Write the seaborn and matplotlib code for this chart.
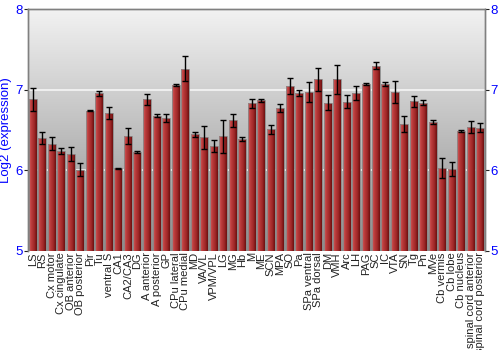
import numpy as np
import pandas as pd
import matplotlib
matplotlib.use("Agg")
import matplotlib.pyplot as plt
import seaborn as sns
from matplotlib.colors import LinearSegmentedColormap

regions = ["LS", "RS", "Cx motor", "Cx cingulate", "OB anterior", "OB posterior",
           "Pir", "Tu", "ventral S", "CA1", "CA2/CA3", "DG", "A anterior",
           "A posterior", "GP", "CPu lateral", "CPu medial", "MD", "VA/VL",
           "VPM/VPL", "LG", "MG", "Hb", "M", "ME", "SCN", "MPA", "SO", "Pa",
           "SPa ventral", "SPa dorsal", "DM", "VMH", "Arc", "LH", "PAG", "SC",
           "IC", "VTA", "SN", "Tg", "Pn", "MVe", "Cb vermis", "Cb lobe",
           "Cb nucleus", "spinal cord anterior", "spinal cord posterior"]
expression = [6.88, 6.40, 6.33, 6.24, 6.20, 6.01,
              6.74, 6.955, 6.71, 6.025, 6.43, 6.23, 6.88,
              6.68, 6.65, 7.055, 7.26, 6.447, 6.41,
              6.30, 6.42, 6.62, 6.39, 6.83, 6.87, 6.51, 6.77, 7.05, 6.96,
              6.97, 7.13, 6.84, 7.13, 6.85, 6.96, 7.07, 7.30,
              7.07, 6.97, 6.57, 6.855, 6.84, 6.60, 6.03, 6.02,
              6.49, 6.54, 6.53]
error = [0.14, 0.075, 0.08, 0.04, 0.09, 0.085,
         0.01, 0.03, 0.07, 0.005, 0.10, 0.015, 0.065,
         0.02, 0.05, 0.01, 0.155, 0.03, 0.14,
         0.075, 0.20, 0.08, 0.02, 0.055, 0.02, 0.055, 0.05, 0.10, 0.035,
         0.12, 0.145, 0.095, 0.18, 0.08, 0.09, 0.015, 0.04,
         0.03, 0.135, 0.10, 0.065, 0.03, 0.02, 0.125, 0.085,
         0.015, 0.075, 0.055]
y_ticks = [5, 6, 7, 8]

df = pd.DataFrame({"region": regions, "expression": expression, "error": error})

sns.set_theme(style="white")
plt.rcParams["font.family"] = ["Liberation Sans", "DejaVu Sans"]

fig = plt.figure(figsize=(5, 3.5), dpi=100)
ax = fig.add_axes([0.056, 0.283, 0.914, 0.691])

sns.barplot(data=df, x="region", y="expression", color="#b03030", width=0.84,
            errorbar=None, ax=ax, edgecolor="#8a8a8a", linewidth=0.6, zorder=3)

ax.set_ylim(5, 8)
n = len(regions)
ax.set_xlim(-0.5, n - 0.5)

# background gradient
bg = LinearSegmentedColormap.from_list("bg", ["#8c8c8c", "#f2f2f2"])
grad = np.linspace(0, 1, 256).reshape(-1, 1)
ax.imshow(grad, aspect="auto", cmap=bg, origin="lower",
          extent=[-0.5, n - 0.5, 5, 8], zorder=0)

# bar gradient
barcm = LinearSegmentedColormap.from_list("bar", ["#d45c5c", "#b83a3a", "#a02828", "#6c1010"])
hgrad = np.linspace(0, 1, 64).reshape(1, -1)
for p in ax.patches:
    x0, w, h = p.get_x(), p.get_width(), p.get_height()
    im = ax.imshow(hgrad, aspect="auto", cmap=barcm,
                   extent=[x0, x0 + w, 5, h], zorder=3.5)
    im.set_clip_path(p)
    p.set_facecolor("none")
    p.set_zorder(4)

# gridlines
for yv in [6, 7]:
    ax.axhline(yv, color="white", lw=1.2, alpha=0.8, zorder=1)

# error bars
ax.errorbar(np.arange(n), df["expression"], yerr=df["error"], fmt="none",
            ecolor="black", elinewidth=1, capsize=2.2, capthick=1, zorder=5)

ax.set_xticks(np.arange(n))
ax.set_xticklabels(regions, rotation=90, fontsize=8.0, color="#222222")
ax.tick_params(axis="x", length=0, pad=1)
ax.set_xlabel("")
ax.set_yticks(y_ticks)
ax.tick_params(axis="y", colors="#222222", labelcolor="blue", labelsize=9.5,
               length=3, width=0.8, left=True, direction="out", pad=1)
ax.set_ylabel("Log2 (expression)", color="blue", fontsize=9.5, labelpad=2)

ax2 = ax.twinx()
ax2.set_ylim(5, 8)
ax2.set_yticks(y_ticks)
ax2.tick_params(axis="y", colors="#222222", labelcolor="blue", labelsize=9.5,
                length=3, width=0.8, right=True, direction="out", pad=1)

for a in (ax, ax2):
    for s in ["top", "left", "right"]:
        a.spines[s].set_visible(True)
        a.spines[s].set_color("#808080")
        a.spines[s].set_linewidth(1)
    a.spines["bottom"].set_visible(False)

fig.savefig("out.png", dpi=100)
